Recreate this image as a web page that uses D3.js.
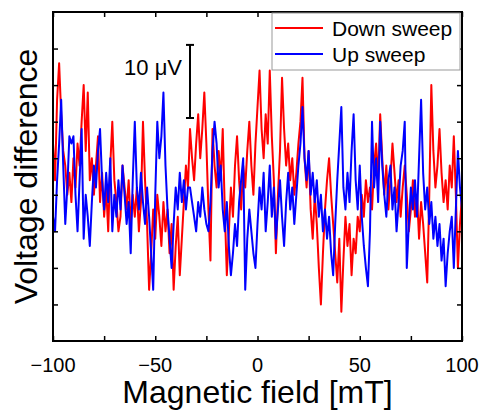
<!DOCTYPE html>
<html>
<head>
<meta charset="utf-8">
<script src="https://cdn.jsdelivr.net/npm/d3@7"></script>
<style>
  body { margin: 0; background: #fff; }
  svg { display: block; font-family: "Liberation Sans", Arial, sans-serif; }
</style>
</head>
<body>
<svg id="chart" width="482" height="411"></svg>
<script>
// field axis runs -100..100 mT in 1 mT steps
const fieldStart = -100;
const fieldStep = 1;

// voltage (uV, arbitrary offset)
const downSweep = [
  27, 22, 33, 38, 31, 26, 24, 20, 23, 19, 25, 21, 27, 24, 30, 35, 26, 34, 22, 25,
  20, 24, 28, 19, 23, 17, 21, 15, 24, 30, 22, 19, 15, 17, 24, 21, 18, 22, 16, 20,
  17, 21, 15, 19, 30, 22, 16, 7, 12, 18, 14, 20, 17, 13, 19, 15, 18, 12, 16, 7,
  13, 17, 9, 14, 19, 24, 21, 29, 25, 22, 27, 31, 25, 29, 34, 27, 18, 11, 29, 24,
  21, 26, 22, 29, 18, 9, 15, 21, 17, 24, 28, 22, 18, 24, 21, 26, 30, 24, 20, 27,
  32, 37, 29, 25, 31, 27, 37, 28, 22, 12, 20, 26, 36, 29, 24, 27, 22, 25, 20, 23,
  27, 30, 36, 25, 21, 26, 18, 14, 20, 16, 10, 5, 12, 18, 22, 25, 20, 16, 12, 8,
  14, 4, 11, 17, 13, 16, 9, 14, 12, 17, 15, 20, 17, 22, 19, 21, 18, 24, 27, 22,
  31, 25, 20, 24, 18, 22, 27, 23, 19, 22, 17, 21, 24, 20, 15, 18, 22, 17, 20, 14,
  19, 16, 12, 8, 20, 35, 26, 21, 24, 29, 23, 19, 22, 18, 24, 21, 28, 20, 10, 16,
  20
];
const upSweep = [
  17, 15, 22, 27, 33, 24, 16, 21, 28, 27, 28, 20, 15, 22, 29, 14, 20, 17, 13, 19,
  24, 21, 26, 29, 22, 18, 23, 19, 25, 15, 20, 17, 22, 18, 24, 20, 16, 19, 12, 22,
  30, 21, 18, 23, 19, 16, 21, 17, 12, 7, 20, 30, 25, 28, 34, 24, 18, 14, 10, 16,
  21, 18, 23, 19, 22, 18, 21, 21, 19, 17, 15, 19, 17, 21, 18, 16, 15, 19, 26, 30,
  27, 21, 24, 18, 15, 19, 13, 9, 12, 16, 13, 19, 22, 25, 7, 14, 18, 15, 12, 10,
  16, 21, 18, 23, 15, 19, 24, 17, 21, 14, 18, 22, 17, 13, 19, 23, 18, 21, 16, 20,
  24, 27, 32, 25, 22, 26, 20, 23, 19, 22, 17, 20, 15, 18, 14, 17, 12, 9, 16, 22,
  27, 32, 21, 18, 23, 19, 26, 31, 22, 18, 24, 17, 13, 10, 7.5, 15, 30, 21, 25, 19,
  30, 24, 20, 17, 22, 24, 18, 21, 15, 19, 24, 26, 30, 10, 16, 21, 18, 22, 17, 25,
  33, 23, 18, 21, 16, 19, 14, 17, 13, 16, 11, 14, 7.5, 12, 15, 17, 10, 18, 26, 21,
  18
];

const xTicksMajor = [-100, -50, 0, 50, 100];
const xTicksAll = [-100, -75, -50, -25, 0, 25, 50, 75, 100];
const yTicks = [5, 10, 15, 20, 25, 30, 35, 40];

const seriesNames = ["Down sweep", "Up sweep"];
const seriesColors = ["#ff0000", "#0000ff"];

const svg = d3.select("#chart");
const plot = {left: 53, right: 462, top: 12, bottom: 341};

const x = d3.scaleLinear().domain([-100, 100]).range([plot.left, plot.right]);
const y = d3.scaleLinear().domain([0, 45]).range([plot.bottom, plot.top]);

svg.append("clipPath").attr("id", "clip")
  .append("rect")
  .attr("x", plot.left).attr("y", plot.top)
  .attr("width", plot.right - plot.left).attr("height", plot.bottom - plot.top);

const line = d3.line()
  .x((d, i) => x(fieldStart + i * fieldStep))
  .y(d => y(d));

const traces = svg.append("g").attr("clip-path", "url(#clip)");
[downSweep, upSweep].forEach((s, k) => {
  traces.append("path")
    .datum(s)
    .attr("fill", "none")
    .attr("stroke", seriesColors[k])
    .attr("stroke-width", 2)
    .attr("stroke-linejoin", "round")
    .attr("d", line);
});

// axes, ticks pointing inward
const tickLen = 5;
svg.append("g")
  .attr("transform", `translate(0,${plot.bottom})`)
  .call(d3.axisBottom(x).tickValues(xTicksAll).tickSize(-tickLen).tickFormat(""))
  .call(g => g.select(".domain").remove())
  .call(g => g.selectAll("line").attr("stroke", "#000").attr("stroke-width", 1.5));
svg.append("g")
  .attr("transform", `translate(0,${plot.top})`)
  .call(d3.axisTop(x).tickValues(xTicksAll).tickSize(-tickLen).tickFormat(""))
  .call(g => g.select(".domain").remove())
  .call(g => g.selectAll("line").attr("stroke", "#000").attr("stroke-width", 1.5));
svg.append("g")
  .attr("transform", `translate(${plot.left},0)`)
  .call(d3.axisLeft(y).tickValues(yTicks).tickSize(-tickLen).tickFormat(""))
  .call(g => g.select(".domain").remove())
  .call(g => g.selectAll("line").attr("stroke", "#000").attr("stroke-width", 1.5));
svg.append("g")
  .attr("transform", `translate(${plot.right},0)`)
  .call(d3.axisRight(y).tickValues(yTicks).tickSize(-tickLen).tickFormat(""))
  .call(g => g.select(".domain").remove())
  .call(g => g.selectAll("line").attr("stroke", "#000").attr("stroke-width", 1.5));

svg.append("g").selectAll("text")
  .data(xTicksMajor)
  .join("text")
  .attr("x", d => x(d))
  .attr("y", 372)
  .attr("text-anchor", "middle")
  .attr("font-size", 20)
  .text(d => d < 0 ? "\u2212" + Math.abs(d) : d);

svg.append("rect")
  .attr("x", plot.left).attr("y", plot.top)
  .attr("width", plot.right - plot.left).attr("height", plot.bottom - plot.top)
  .attr("fill", "none").attr("stroke", "#000").attr("stroke-width", 2);

// axis titles
svg.append("text")
  .attr("x", (plot.left + plot.right) / 2)
  .attr("y", 403)
  .attr("text-anchor", "middle")
  .attr("font-size", 32)
  .text("Magnetic field [mT]");
svg.append("text")
  .attr("transform", `translate(37,${(plot.top + plot.bottom) / 2}) rotate(-90)`)
  .attr("text-anchor", "middle")
  .attr("font-size", 32)
  .text("Voltage difference");

// 10 uV scale bar
const barX = 190;
const barTop = y(40.5), barBot = y(30.5);
const bar = svg.append("g").attr("stroke", "#000").attr("stroke-width", 2);
bar.append("line").attr("x1", barX).attr("x2", barX).attr("y1", barTop).attr("y2", barBot);
bar.append("line").attr("x1", barX - 4).attr("x2", barX + 4).attr("y1", barTop).attr("y2", barTop);
bar.append("line").attr("x1", barX - 4).attr("x2", barX + 4).attr("y1", barBot).attr("y2", barBot);
svg.append("text")
  .attr("x", 182).attr("y", 75)
  .attr("text-anchor", "end")
  .attr("font-size", 22)
  .text("10 \u03bcV");

// legend
const legend = svg.append("g");
legend.append("rect")
  .attr("x", 272).attr("y", 13)
  .attr("width", 188).attr("height", 57)
  .attr("fill", "#fff").attr("stroke", "#999").attr("stroke-width", 1);
seriesNames.forEach((name, k) => {
  const ly = 28 + k * 26;
  legend.append("line")
    .attr("x1", 275).attr("x2", 323).attr("y1", ly).attr("y2", ly)
    .attr("stroke", seriesColors[k]).attr("stroke-width", 2);
  legend.append("text")
    .attr("x", 332).attr("y", ly + 8)
    .attr("font-size", 21)
    .text(name);
});
</script>
</body>
</html>
